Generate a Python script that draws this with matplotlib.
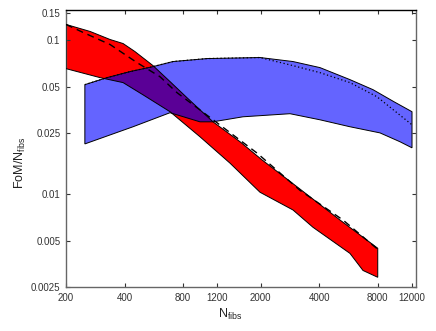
import numpy as np
import matplotlib.pyplot as plt

plt.rcParams['font.family'] = ['Liberation Sans', 'DejaVu Sans']
plt.rcParams['mathtext.default'] = 'regular'

# red band (upper / lower edge) and its dashed centre line
red_up_n = [200, 266, 337, 393, 452, 560, 685, 837, 976, 1139, 1568, 2034, 3188, 5118, 8000]
red_up_v = [0.1264, 0.1138, 0.1009, 0.0950, 0.0843, 0.0683, 0.0538, 0.0423, 0.0353, 0.0295,
            0.0219, 0.0167, 0.0108, 0.0068, 0.00446]
red_lo_n = [200, 299, 393, 497, 685, 976, 1393, 1986, 2935, 3719, 5760, 6720, 8000]
red_lo_v = [0.0653, 0.0571, 0.0530, 0.0442, 0.0343, 0.0236, 0.0159, 0.0103, 0.0079, 0.0061,
            0.00413, 0.00320, 0.00289]
dash_n = [200, 245, 337, 463, 608, 744, 899, 1194, 1917, 3188, 5303, 8000]
dash_v = [0.1264, 0.1121, 0.0936, 0.0715, 0.0579, 0.0456, 0.0381, 0.0291, 0.0185, 0.0106,
          0.0068, 0.00439]

# blue band and its dotted line
blue_up_n = [250, 325, 427, 560, 709, 1061, 1986, 2935, 4040, 5760, 7560, 9700, 12000]
blue_up_v = [0.0514, 0.0571, 0.0625, 0.0673, 0.0726, 0.0759, 0.0771, 0.0726, 0.0663, 0.0554,
             0.0477, 0.0398, 0.0343]
blue_lo_n = [250, 442, 685, 976, 1139, 1624, 2832, 4040, 5760, 8216, 10410, 12000]
blue_lo_v = [0.0212, 0.0274, 0.0338, 0.0295, 0.0295, 0.0318, 0.0333, 0.0304, 0.0274, 0.0250,
             0.0219, 0.0200]
dot_n = [250, 325, 427, 560, 709, 1061, 1986, 2935, 4040, 5760, 7930, 10040, 12000]
dot_v = [0.0514, 0.0571, 0.0625, 0.0673, 0.0726, 0.0759, 0.0771, 0.0683, 0.0615, 0.0530,
         0.0429, 0.0338, 0.0282]

xticks = [200, 400, 800, 1200, 2000, 4000, 8000, 12000]
yticks = [0.0025, 0.005, 0.01, 0.025, 0.05, 0.1, 0.15]


def band(n_up, v_up, n_lo, v_lo):
    xs = list(n_up) + list(n_lo)[::-1]
    ys = list(v_up) + list(v_lo)[::-1]
    return xs, ys


fig = plt.figure(figsize=(4.36, 3.31), dpi=100)
ax = fig.add_axes([66 / 436, 44 / 331, 350 / 436, 277.5 / 331])
ax.set_xscale('log')
ax.set_yscale('log')

rx, ry = band(red_up_n, red_up_v, red_lo_n, red_lo_v)
bx, by = band(blue_up_n, blue_up_v, blue_lo_n, blue_lo_v)

ax.fill(rx, ry, color='#ff0000', lw=0, zorder=1)
blue = ax.fill(bx, by, color='#6464ff', lw=0, zorder=2)[0]
# overlap region
over = ax.fill(rx, ry, color='#5a0096', lw=0, zorder=3)[0]
over.set_clip_path(blue)

ax.fill(rx, ry, facecolor='none', edgecolor='black', lw=0.7, zorder=4)
ax.fill(bx, by, facecolor='none', edgecolor='black', lw=0.7, zorder=4)
ax.plot(dash_n, dash_v, color='black', ls=(0, (5, 3.5)), lw=1.0, zorder=5)
ax.plot(dot_n, dot_v, color='black', ls=(0, (1, 2)), lw=0.9, zorder=5)

ax.set_xlim(200, 12580)
ax.set_ylim(0.0025, 0.158)
ax.set_xticks(xticks)
ax.set_xticklabels([str(t) for t in xticks])
ax.set_yticks(yticks)
ax.set_yticklabels([str(t) for t in yticks])
ax.minorticks_off()
ax.tick_params(direction='in', length=3, width=0.8, labelsize=7, colors='#333333',
               top=True, right=True, pad=4)

for s in ['left', 'bottom', 'right']:
    ax.spines[s].set_color('#666666')
ax.spines['top'].set_color('black')
for s in ax.spines.values():
    s.set_linewidth(1.0)

ax.set_xlabel('N$_{fibs}$', fontsize=9, color='#222222')
ax.xaxis.set_label_coords(0.47, -0.07)
ax.set_ylabel('FoM/N$_{fibs}$', fontsize=9, color='#222222')
ax.yaxis.set_label_coords(-0.11, 0.45)

fig.savefig('out.png', dpi=100)
